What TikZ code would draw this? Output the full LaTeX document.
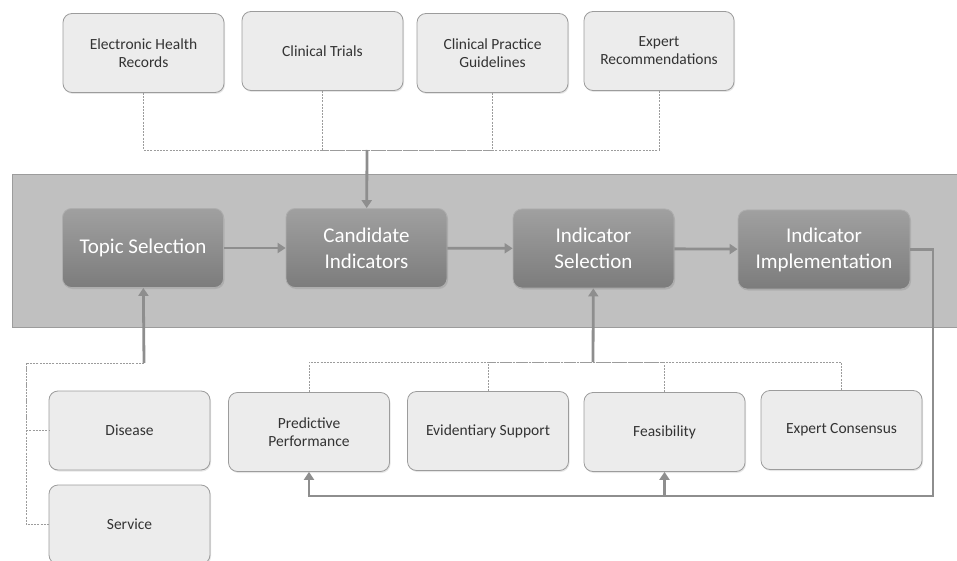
\documentclass[tikz,border=0pt]{standalone}
\usepackage{fontspec}
\setmainfont{Carlito}
\usetikzlibrary{arrows.meta,shadows}

\definecolor{boxfill}{HTML}{ECECEC}
\definecolor{boxline}{HTML}{9C9C9C}
\definecolor{boxtext}{HTML}{333333}
\definecolor{phasetop}{HTML}{A0A0A0}
\definecolor{phasebot}{HTML}{7C7C7C}
\definecolor{bandfill}{HTML}{C0C0C0}
\definecolor{flowgray}{HTML}{8E8E8E}

\begin{document}
\begin{tikzpicture}[x=1pt, y=-1pt,
    source/.style = {draw=boxline, fill=boxfill, rounded corners=9pt, line width=0.8pt,
        minimum width=161pt, minimum height=79pt, align=center, text=boxtext,
        font=\fontsize{15.5}{18}\selectfont,
        drop shadow={opacity=0.2, shadow xshift=1pt, shadow yshift=-1.5pt}},
    phase/.style = {draw=phasetop!85, top color=phasetop, bottom color=phasebot,
        rounded corners=9pt, line width=0.8pt, minimum width=161pt, minimum height=79pt,
        align=center, text=white, font=\fontsize{21}{26}\selectfont,
        drop shadow={opacity=0.25, shadow xshift=1pt, shadow yshift=-1.5pt}},
    flow/.style = {draw=flowgray, line width=2.8pt, -{Triangle[length=8pt,width=10pt]}},
    link/.style = {draw=boxline, line width=0.7pt, dash pattern=on 2pt off 1.2pt}
]
\useasboundingbox (0,0) rectangle (957,561);
\clip (0,0) rectangle (957,561);

% band behind the phases
\fill[bandfill] (12,174) rectangle (957,327);
\draw[boxline, line width=0.6pt] (957,174) -- (12,174) -- (12,327) -- (957,327);

% sources
\node (ehr) [source] at (143.5,53) {Electronic Health\\Records};
\node (ct)  [source] at (322.5,51) {Clinical Trials};
\node (cpg) [source, minimum width=151pt] at (492.5,53) {Clinical Practice\\Guidelines};
\node (exr) [source, minimum width=150pt] at (659,51) {Expert\\Recommendations};

% phases
\node (topic) [phase] at (143,248)   {Topic Selection};
\node (cand)  [phase] at (366.5,248) {Candidate\\Indicators};
\node (isel)  [phase] at (593.5,248.5) {Indicator\\Selection};
\node (impl)  [phase, minimum width=172pt] at (824,249.5) {Indicator\\Implementation};

% topics
\node (dis)  [source] at (129.5,430.5) {Disease};
\node (serv) [source] at (129.5,524.5) {Service};

% criteria
\node (pp)   [source] at (309,432)   {Predictive\\Performance};
\node (es)   [source] at (488,431)   {Evidentiary Support};
\node (feas) [source] at (664.5,432) {Feasibility};
\node (ec)   [source] at (841.5,430) {Expert Consensus};

% junctions
\coordinate (jsrc)   at (367,150);
\coordinate (jtopic) at (144,363);
\coordinate (jleft)  at (26,363);
\coordinate (jcrit)  at (593,362);
\coordinate (jfb)    at (933,496);
\coordinate (jfeas)  at (664.5,496);

\draw[link] (ehr.south) |- (jsrc);
\draw[link] (ct.south)  |- (jsrc);
\draw[link] (cpg.south) |- (jsrc);
\draw[link] (exr.south) |- (jsrc);

\draw[link] (jtopic) -- (jleft) |- (dis.west);
\draw[link] (jleft) |- (serv.west);

\draw[link] (pp.north)   |- (jcrit);
\draw[link] (es.north)   |- (jcrit);
\draw[link] (feas.north) |- (jcrit);
\draw[link] (ec.north)   |- (jcrit);

\draw[flow] (jsrc) -- (cand);
\draw[flow] (jtopic) -- (topic);
\draw[flow] (jcrit) -- (isel);
\draw[flow] (topic) -- (cand);
\draw[flow] (cand) -- (isel);
\draw[flow] (isel) -- (impl);
\draw[flow] (impl.east) -| (jfb) -| (pp.south);
\draw[flow] (jfeas) -- (feas.south);
\end{tikzpicture}
\end{document}
